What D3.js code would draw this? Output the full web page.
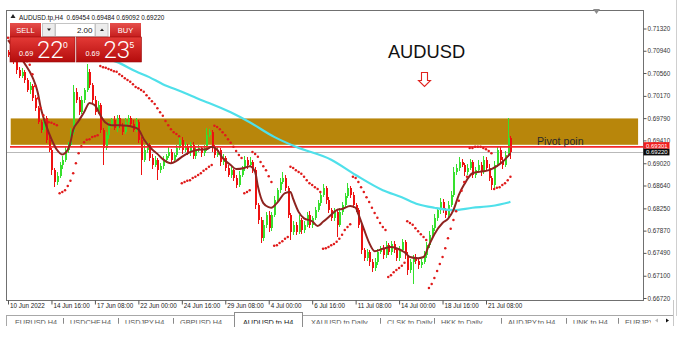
<!DOCTYPE html>
<html>
<head>
<meta charset="utf-8">
<script src="https://cdn.jsdelivr.net/npm/d3@7"></script>
<style>
  body { margin: 0; background: #fff; }
  svg { display: block; font-family: "Liberation Sans", Arial, sans-serif; }
</style>
</head>
<body>
<div id="chart"></div>
<script>
// AUDUSD.tp H4 - values in pips (price * 10000)
var firstOpen = 7092;
var closes = [
  7087,7082,7075,7061,7051,7058,7044,7027,7034,7013,
  6996,6972,6959,6979,6942,6925,6890,6870,6880,6899,
  6908,6925,6933,6955,7024,7010,6989,7010,7027,7058,
  7035,7010,6989,7001,6959,6928,6950,6967,6976,6962,
  6979,6967,6955,6972,6979,6969,6959,6972,6942,6908,
  6925,6933,6911,6899,6908,6890,6897,6908,6914,6921,
  6908,6916,6928,6942,6925,6931,6921,6933,6914,6925,
  6928,6919,6928,6950,6955,6928,6916,6925,6904,6911,
  6894,6882,6890,6877,6865,6882,6894,6908,6899,6904,
  6890,6831,6805,6774,6797,6814,6791,6814,6839,6856,
  6870,6877,6860,6814,6785,6797,6785,6805,6788,6797,
  6814,6797,6808,6822,6834,6848,6860,6839,6822,6808,
  6819,6797,6819,6831,6846,6860,6848,6831,6822,6797,
  6754,6740,6750,6733,6723,6733,6750,6757,6745,6762,
  6750,6764,6754,6740,6754,6767,6745,6720,6733,6742,
  6735,6728,6733,6745,6762,6779,6791,6808,6822,6836,
  6822,6814,6831,6848,6887,6894,6904,6899,6887,6894,
  6904,6882,6890,6899,6887,6908,6894,6877,6865,6899,
  6925,6908,6899,6916,6945,6922
];
// upper / lower shadow length in pips
var wickUp = [
  4,3,6,2,5,7,3,4,6,3, 5,4,3,5,4,6,3,4,7,5, 6,4,5,8,11,6,5,7,4,13,
  5,4,6,8,3,4,6,5,4,7, 5,6,4,8,5,3,6,7,4,5, 8,5,4,6,7,3,5,6,4,8,
  5,4,6,9,5,7,4,6,5,4, 6,3,5,12,6,4,5,7,3,6, 4,5,7,3,5,6,4,6,5,8,
  4,6,3,5,8,4,6,5,7,4, 6,10,5,4,3,6,5,8,4,6, 5,7,4,6,5,7,6,4,5,3,
  6,4,7,5,6,8,4,5,3,4, 5,3,6,4,5,7,6,4,5,8, 4,6,5,3,7,6,4,5,6,4,
  5,3,6,7,5,8,6,7,4,6, 5,4,7,6,9,6,8,5,4,7, 6,4,5,8,5,7,4,6,3,7,
  5,6,4,7,34,3
];
var wickDn = [
  3,5,4,6,3,4,5,3,6,4, 5,3,6,4,5,4,8,8,5,4, 6,4,5,3,4,6,5,3,6,4,
  5,6,4,3,5,29,4,6,5,4, 6,4,5,3,6,5,4,3,5,26, 4,6,5,7,4,17,5,4,6,3,
  6,5,4,3,7,4,5,6,4,5, 3,6,4,5,4,6,5,4,7,5, 6,4,5,6,5,4,3,5,6,4,
  5,7,6,8,4,5,7,4,3,5, 4,3,5,6,14,5,6,4,7,5, 4,6,5,3,4,5,3,6,5,4,
  5,21,4,5,3,4,6,5,4,6, 7,5,4,6,7,5,4,3,6,4, 5,4,6,5,4,3,6,8,5,37,
  5,6,4,3,5,4,3,5,4,6, 5,6,4,3,4,5,6,4,7,5, 4,6,5,3,6,4,5,6,9,5,
  4,5,6,4,3,13
];
// fast moving average (dark red) as [bar, pips]
var fastMa = [
  [0,7112],[4,7087],[6,7073],[9,7049],[11,7022],[12,6998],[13,6981],[14,6967],[16,6943],[18,6925],
  [20,6917],[21,6919],[23,6938],[24,6959],[26,6974],[28,6989],[30,7005],[32,7001],[34,6984],[36,6971],
  [38,6967],[41,6967],[44,6966],[46,6964],[48,6960],[50,6943],[53,6926],[55,6918],[57,6909],[60,6902],
  [62,6906],[64,6913],[67,6921],[70,6925],[73,6926],[75,6930],[77,6925],[79,6911],[82,6899],[84,6892],
  [87,6894],[89,6897],[91,6887],[92,6863],[94,6834],[96,6827],[97,6826],[99,6834],[102,6851],[104,6853],
  [105,6841],[107,6819],[109,6808],[112,6803],[114,6795],[116,6802],[119,6814],[121,6822],[123,6824],[126,6829],
  [128,6826],[129,6815],[131,6790],[133,6766],[135,6752],[138,6756],[141,6759],[143,6757],[146,6750],[148,6742],
  [151,6740],[153,6742],[155,6762],[157,6781],[160,6800],[162,6807],[164,6822],[166,6848],[168,6866],[171,6885],
  [173,6887],[176,6889],[178,6892],[180,6897],[182,6904],[185,6919]
];
// slow moving average (cyan) as [bar, pips]
var slowMa = [
  [30,7087],[40,7075],[47,7059],[52,7049],[57,7037],[64,7024],[70,7012],[74,7005],[82,6989],[89,6972],
  [98,6947],[106,6930],[119,6908],[128,6882],[138,6856],[145,6844],[151,6832],[157,6826],[164,6822],
  [171,6826],[178,6829],[185,6836]
];
// parabolic SAR, one value per bar, pips
var sar = [
  7116,7112,7107,7102,7095,7088,7082,7076,7070,7054, 7034,7013,6996,6984,6976,6972,6971,6969,6967,6851,
  6853,6856,6863,6872,6885,6902,6919,6931,6938,6942, 6943,6947,6948,6950,7068,7066,7065,7063,7061,7059,
  7058,7054,7051,7047,7044,7041,7037,7032,7030,7027, 7024,7018,7013,7008,7003,6996,6989,6983,6974,6967,
  6960,6955,6952,6948,6868,6870,6872,6873,6877,6879, 6882,6885,6889,6892,6896,6899,6966,6964,6960,6955,
  6950,6943,6937,6930,6923,6916,6911,6851,6853,6856, 6921,6918,6913,6904,6897,6890,6880,6870,6761,6762,
  6766,6769,6773,6776,6896,6894,6890,6887,6884,6879, 6873,6868,6865,6861,6858,6853,6756,6757,6759,6762,
  6764,6768,6773,6780,6788,6793,6798,6879,6877,6870, 6861,6853,6844,6836,6826,6817,6809,6800,6793,6788,
  6708,6711,6716,6720,6723,6727,6732,6803,6800,6797, 6791,6786,6781,6776,6771,6689,6696,6706,6718,6730,
  6742,6757,6774,6790,6805,6820,6838,6855,6870,6879, 6928,6928,6930,6930,6930,6928,6926,6923,6919,6858,
  6860,6861,6865,6868,6873,6879
];
var timeTicks = [0,16,32,48,64,80,96,112,128,144,160,176];
var timeLabels = ["10 Jun 2022","14 Jun 16:00","17 Jun 08:00","22 Jun 00:00","24 Jun 16:00","29 Jun 08:00",
                  "4 Jul 00:00","6 Jul 16:00","11 Jul 08:00","14 Jul 00:00","18 Jul 16:00","21 Jul 08:00"];
var priceTicks = ["0.71320","0.70940","0.70560","0.70170","0.69790","0.69410","0.69020",
                  "0.68640","0.68250","0.67870","0.67490","0.67100","0.66720"];
var zoneHigh = 0.69785, zoneLow = 0.69335, zoneFrom = 1, zoneTo = 232;
var pivotPrice = 0.69301, bidPrice = 0.69220;
var headerText = "AUDUSD.tp,H4  0.69454 0.69484 0.69092 0.69220";
var lotSize = "2.00";
var sellQuote = ["0.69", "22", "0"], buyQuote = ["0.69", "23", "5"];
var tabNames = ["EURUSD,H4","USDCHF,H4","USDJPY,H4","GBPUSD,H4","AUDUSD.tp,H4","XAUUSD.tp,Daily",
                "CLSK.tp,Daily","HKK.tp,Daily","AUDJPY.tp,H4","UNK.tp,H4","EURJPY.tp,H4"];
var activeTab = 4;

var W = 684, H = 337;
var L = 6, R = 643, T = 10, B = 300;

var bars = closes.map(function(c, i) {
  var o = i === 0 ? firstOpen : closes[i - 1];
  return { i: i, o: o / 1e4, c: c / 1e4,
           h: (Math.max(o, c) + wickUp[i]) / 1e4, l: (Math.min(o, c) - wickDn[i]) / 1e4 };
});

var x = d3.scaleLinear().domain([0, 176]).range([8, 486]);
var y = d3.scaleLinear().domain([0.66720, 0.71320]).range([298, 28.5]);

var svg = d3.select("#chart").append("svg").attr("width", W).attr("height", H);
var defs = svg.append("defs");
defs.append("clipPath").attr("id", "plot").append("rect")
  .attr("x", L).attr("y", T).attr("width", R - L).attr("height", B - T);
defs.append("clipPath").attr("id", "tabclip").append("rect")
  .attr("x", 0).attr("y", 310).attr("width", 652).attr("height", 13.8);
var g1 = defs.append("linearGradient").attr("id", "redBig").attr("x1", 0).attr("y1", 0).attr("x2", 0).attr("y2", 1);
g1.append("stop").attr("offset", "0%").attr("stop-color", "#e43a36");
g1.append("stop").attr("offset", "100%").attr("stop-color", "#b40c0c");
var g2 = defs.append("linearGradient").attr("id", "redBtn").attr("x1", 0).attr("y1", 0).attr("x2", 0).attr("y2", 1);
g2.append("stop").attr("offset", "0%").attr("stop-color", "#e6504c");
g2.append("stop").attr("offset", "100%").attr("stop-color", "#c61d1d");

svg.append("rect").attr("width", W).attr("height", H).attr("fill", "#fff");

var plot = svg.append("g").attr("clip-path", "url(#plot)");

// supply/demand zone
plot.append("rect")
  .attr("x", x(zoneFrom)).attr("width", x(zoneTo) - x(zoneFrom))
  .attr("y", y(zoneHigh)).attr("height", y(zoneLow) - y(zoneHigh))
  .attr("fill", "#b8860b");

// bid line
plot.append("line").attr("x1", L).attr("x2", R)
  .attr("y1", Math.round(y(bidPrice)) + 0.5).attr("y2", Math.round(y(bidPrice)) + 0.5)
  .attr("stroke", "#b9b9b9").attr("stroke-width", 1);

// candles
var cg = plot.append("g").attr("shape-rendering", "crispEdges");
var candle = cg.selectAll("g").data(bars).enter().append("g");
candle.append("line")
  .attr("x1", function(d) { return Math.round(x(d.i)) + 0.5; })
  .attr("x2", function(d) { return Math.round(x(d.i)) + 0.5; })
  .attr("y1", function(d) { return y(d.h); })
  .attr("y2", function(d) { return y(d.l); })
  .attr("stroke", function(d) { return d.c >= d.o ? "#36e02e" : "#ee1111"; });
candle.append("rect")
  .attr("x", function(d) { return Math.round(x(d.i)) - 0.5; })
  .attr("width", 2)
  .attr("y", function(d) { return y(Math.max(d.o, d.c)); })
  .attr("height", function(d) { return Math.max(1, Math.abs(y(d.o) - y(d.c))); })
  .attr("fill", function(d) { return d.c >= d.o ? "#36e02e" : "#ee1111"; });

// pivot line
plot.append("line").attr("x1", 10).attr("x2", R)
  .attr("y1", y(pivotPrice)).attr("y2", y(pivotPrice))
  .attr("stroke", "#f52a2a").attr("stroke-width", 1.7);

// moving averages
var maLine = d3.line()
  .x(function(d) { return x(d[0]); })
  .y(function(d) { return y(d[1] / 1e4); })
  .curve(d3.curveMonotoneX);
plot.append("path").datum(slowMa).attr("d", maLine)
  .attr("fill", "none").attr("stroke", "#4fe0ea").attr("stroke-width", 2.2);
plot.append("path").datum(fastMa).attr("d", maLine)
  .attr("fill", "none").attr("stroke", "#8e2420").attr("stroke-width", 2);

// parabolic SAR
plot.append("g").selectAll("circle").data(sar).enter().append("circle")
  .attr("cx", function(d, i) { return x(i); })
  .attr("cy", function(d) { return y(d / 1e4); })
  .attr("r", 1.25)
  .attr("fill", "#e01b1b");

// annotations
svg.append("text").attr("x", 426.5).attr("y", 58).attr("text-anchor", "middle")
  .attr("font-size", 18.3).attr("fill", "#111").text("AUDUSD");
svg.append("path")
  .attr("d", "M421.5,72.5 H427.5 V80.5 H430.5 L424.5,86.5 L418.5,80.5 H421.5 Z")
  .attr("fill", "#fff").attr("stroke", "#e0231f").attr("stroke-width", 1.1);
svg.append("text").attr("x", 537).attr("y", 144.5)
  .attr("font-size", 10.6).attr("fill", "#2a2a2a").text("Pivot poin");

// frame
var frame = svg.append("g").attr("stroke", "#707070").attr("shape-rendering", "crispEdges");
frame.append("line").attr("x1", L).attr("x2", R).attr("y1", T + 0.5).attr("y2", T + 0.5);
frame.append("line").attr("x1", L + 0.5).attr("x2", L + 0.5).attr("y1", T).attr("y2", B);
frame.append("line").attr("x1", R + 0.5).attr("x2", R + 0.5).attr("y1", T).attr("y2", B + 1);
frame.append("line").attr("x1", L).attr("x2", R).attr("y1", B + 0.5).attr("y2", B + 0.5);
svg.append("line").attr("x1", 676.5).attr("x2", 676.5).attr("y1", 0).attr("y2", 316)
  .attr("stroke", "#cfcfcf");
svg.append("path").attr("d", "M593,9 H600 L596.5,14 Z").attr("fill", "#8a8a8a");

// price axis
var yAxis = svg.append("g").attr("transform", "translate(" + (R + 0.5) + ",0)")
  .call(d3.axisRight(y)
    .tickValues(priceTicks.map(Number))
    .tickFormat(function(d, i) { return priceTicks[i]; })
    .tickSize(3).tickPadding(1));
yAxis.select(".domain").remove();
yAxis.selectAll("line").attr("stroke", "#555");
yAxis.selectAll("text").attr("font-size", 6.3).attr("fill", "#333")
  .attr("font-family", "Liberation Sans, Arial, sans-serif");

// price labels on axis (current pivot above, bid below)
function priceTag(top, bg, label) {
  svg.append("rect").attr("x", R + 0.5).attr("y", top).attr("width", 26).attr("height", 6.6)
    .attr("fill", bg);
  svg.append("text").attr("x", R + 3).attr("y", top + 5.5).attr("font-size", 6)
    .attr("fill", "#fff").text(label);
}
priceTag(y(pivotPrice) - 4.6, "#f21d1d", d3.format(".5f")(pivotPrice));
priceTag(y(pivotPrice) + 2, "#0a0a0a", d3.format(".5f")(bidPrice));

// time axis
var xAxis = svg.append("g").attr("transform", "translate(0," + (B + 0.5) + ")")
  .call(d3.axisBottom(x)
    .tickValues(timeTicks)
    .tickFormat(function(d, i) { return timeLabels[i]; })
    .tickSize(4));
xAxis.select(".domain").remove();
xAxis.selectAll("line").attr("stroke", "#555");
xAxis.selectAll("text").attr("text-anchor", "start").attr("x", 1.5).attr("y", 3.2).attr("dy", "0.71em")
  .attr("font-size", 6.3).attr("fill", "#222")
  .attr("font-family", "Liberation Sans, Arial, sans-serif");

// header line
svg.append("path").attr("d", "M10.5,18 L13,14 L15.5,18 Z").attr("fill", "#222");
svg.append("text").attr("x", 19).attr("y", 19.5).attr("font-size", 6.4).attr("fill", "#111")
  .attr("xml:space", "preserve").text(headerText);

// one-click trading panel
var tp = svg.append("g");
tp.append("rect").attr("x", 10).attr("y", 23).attr("width", 31).attr("height", 14).attr("fill", "url(#redBtn)");
tp.append("text").attr("x", 25.5).attr("y", 33).attr("text-anchor", "middle").attr("font-size", 7.5)
  .attr("fill", "#fff").text("SELL");
tp.append("rect").attr("x", 42.5).attr("y", 23.5).attr("width", 12.5).attr("height", 13)
  .attr("fill", "#ececec").attr("stroke", "#c4c4c4");
tp.append("path").attr("d", "M47,28.5 H51 L49,31 Z").attr("fill", "#222");
tp.append("rect").attr("x", 55.5).attr("y", 23.5).attr("width", 39.5).attr("height", 13)
  .attr("fill", "#fff").attr("stroke", "#c4c4c4");
tp.append("text").attr("x", 92.5).attr("y", 33).attr("text-anchor", "end").attr("font-size", 8)
  .attr("fill", "#222").text(lotSize);
tp.append("rect").attr("x", 95.5).attr("y", 23.5).attr("width", 12.5).attr("height", 13)
  .attr("fill", "#ececec").attr("stroke", "#c4c4c4");
tp.append("path").attr("d", "M100,31 H104 L102,28.5 Z").attr("fill", "#222");
tp.append("rect").attr("x", 110).attr("y", 23).attr("width", 31).attr("height", 14).attr("fill", "url(#redBtn)");
tp.append("text").attr("x", 125.5).attr("y", 33).attr("text-anchor", "middle").attr("font-size", 7.5)
  .attr("fill", "#fff").text("BUY");

function quoteBox(x0, q) {
  tp.append("rect").attr("x", x0).attr("y", 37).attr("width", 65).attr("height", 25)
    .attr("fill", "url(#redBig)").attr("stroke", "#9a0b0b").attr("stroke-width", 0.6);
  tp.append("text").attr("x", x0 + 9).attr("y", 56).attr("font-size", 7.3).attr("fill", "#fff").text(q[0]);
  tp.append("text").attr("x", x0 + 27).attr("y", 58.3).attr("font-size", 24)
    .attr("font-family", "Roboto, sans-serif").attr("font-weight", 300).attr("fill", "#fff").text(q[1]);
  tp.append("text").attr("x", x0 + 53).attr("y", 48).attr("font-size", 8.5).attr("fill", "#fff").text(q[2]);
}
quoteBox(10, sellQuote);
quoteBox(76.5, buyQuote);

// symbol tabs
var tabX = [15, 70, 125, 180, 243, 311, 387, 441, 508, 573, 625];
var tabs = svg.append("g");
tabs.append("line").attr("x1", L).attr("x2", 673).attr("y1", 315.5).attr("y2", 315.5).attr("stroke", "#a8a8a8");
tabs.append("line").attr("x1", L + 0.5).attr("x2", L + 0.5).attr("y1", 315).attr("y2", 326).attr("stroke", "#a8a8a8");
tabs.append("line").attr("x1", 673.5).attr("x2", 673.5).attr("y1", 300).attr("y2", 326).attr("stroke", "#c8c8c8");
tabs.append("rect").attr("x", 234.5).attr("y", 312.5).attr("width", 68).attr("height", 16)
  .attr("fill", "#fff").attr("stroke", "#8c8c8c");
var tt = tabs.append("g").attr("clip-path", "url(#tabclip)");
tabNames.forEach(function(name, i) {
  tt.append("text").attr("x", tabX[i]).attr("y", 325).attr("font-size", 7.3)
    .attr("fill", i === activeTab ? "#111" : "#555").text(name);
  if (i < tabNames.length - 1 && i !== activeTab && i + 1 !== activeTab) {
    tt.append("line").attr("x1", tabX[i + 1] - 6.5).attr("x2", tabX[i + 1] - 6.5)
      .attr("y1", 318).attr("y2", 326).attr("stroke", "#888");
  }
});
tabs.append("rect").attr("x", 651).attr("y", 316).attr("width", 22).attr("height", 12).attr("fill", "#fff");
tabs.append("path").attr("d", "M658,318.5 L655,320.5 L658,322.5 Z").attr("fill", "#bbb");
tabs.append("path").attr("d", "M666,318.5 L669,320.5 L666,322.5 Z").attr("fill", "#111");
svg.append("rect").attr("x", 0).attr("y", 327).attr("width", W).attr("height", 10).attr("fill", "#fff");
</script>
</body>
</html>
